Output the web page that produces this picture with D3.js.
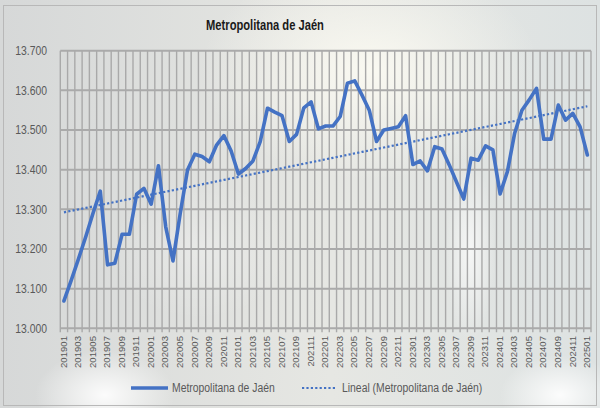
<!DOCTYPE html>
<html>
<head>
<meta charset="utf-8">
<script src="https://cdn.jsdelivr.net/npm/d3@7"></script>
<style>
  html, body { margin: 0; padding: 0; background: #dfe2e2; }
  svg { display: block; }
  text { font-family: "Liberation Sans", Arial, sans-serif; }
</style>
</head>
<body>
<svg id="chart" width="600" height="408"></svg>
<script>
const months = [
  "201901","201902","201903","201904","201905","201906","201907","201908","201909","201910","201911","201912",
  "202001","202002","202003","202004","202005","202006","202007","202008","202009","202010","202011","202012",
  "202101","202102","202103","202104","202105","202106","202107","202108","202109","202110","202111","202112",
  "202201","202202","202203","202204","202205","202206","202207","202208","202209","202210","202211","202212",
  "202301","202302","202303","202304","202305","202306","202307","202308","202309","202310","202311","202312",
  "202401","202402","202403","202404","202405","202406","202407","202408","202409","202410","202411","202412",
  "202501"
];

const afiliados = [
  13069, 13121, 13175, 13231, 13290, 13346, 13160, 13164, 13237, 13237, 13338, 13353,
  13313, 13410, 13256, 13170, 13290, 13399, 13439, 13433, 13420, 13462, 13486, 13447,
  13389, 13403, 13422, 13471, 13555, 13545, 13536, 13471, 13489, 13556, 13571, 13503,
  13510, 13510, 13534, 13618, 13624, 13588, 13550, 13471, 13500, 13504, 13508, 13536,
  13413, 13422, 13397, 13458, 13452, 13412, 13369, 13326, 13429, 13424, 13460, 13450,
  13339, 13395, 13492, 13550, 13576, 13605, 13477, 13477, 13563, 13525, 13542, 13508,
  13437
];

const yTicks = [13000, 13100, 13200, 13300, 13400, 13500, 13600, 13700];
const title = "Metropolitana de Jaén";
const serieName = "Metropolitana de Jaén";
const trendName = "Lineal (Metropolitana de Jaén)";

const blue = "#4472c4";
const labelColor = "#595959";
const squash = 0.77;   // the picture is narrower than the text would be

const svg = d3.select("#chart");

// Background -------------------------------------------------------
const defs = svg.append("defs");
const bg = defs.append("linearGradient").attr("id", "bg").attr("x1", 0).attr("x2", 1).attr("y1", 0).attr("y2", 0);
bg.append("stop").attr("offset", "0%").attr("stop-color", "#d6d8d8");
bg.append("stop").attr("offset", "55%").attr("stop-color", "#e6e7e3");
bg.append("stop").attr("offset", "100%").attr("stop-color", "#dde2e2");

function glow(id, color, op) {
  const g = defs.append("radialGradient").attr("id", id);
  g.append("stop").attr("offset", "0%").attr("stop-color", color).attr("stop-opacity", op);
  g.append("stop").attr("offset", "100%").attr("stop-color", color).attr("stop-opacity", 0);
}
glow("g1", "#fbfaf2", 0.95);
glow("g2", "#ffffff", 0.9);
glow("g3", "#ffffff", 0.7);

svg.append("rect").attr("width", 600).attr("height", 408).attr("fill", "url(#bg)");
svg.append("ellipse").attr("cx", 370).attr("cy", 70).attr("rx", 170).attr("ry", 110).attr("fill", "url(#g1)");
svg.append("ellipse").attr("cx", 105).attr("cy", 395).attr("rx", 70).attr("ry", 45).attr("fill", "url(#g2)");
svg.append("ellipse").attr("cx", 560).attr("cy", 395).attr("rx", 60).attr("ry", 40).attr("fill", "url(#g2)");
svg.append("ellipse").attr("cx", 470).attr("cy", 250).attr("rx", 25).attr("ry", 90).attr("fill", "url(#g3)");
svg.append("ellipse").attr("cx", 200).attr("cy", 250).attr("rx", 90).attr("ry", 70).attr("fill", "url(#g3)").attr("opacity", 0.4);

svg.append("rect")
    .attr("x", 3.5).attr("y", 5.5).attr("width", 593).attr("height", 400)
    .attr("fill", "none").attr("stroke", "#b8b8b8").attr("stroke-width", 1);

// Scales -----------------------------------------------------------
const plot = {left: 60.3, right: 591, top: 50.7, bottom: 328.3};

const x = d3.scaleBand().domain(months).range([plot.left, plot.right]);
const y = d3.scaleLinear().domain([13000, 13700]).range([plot.bottom, plot.top]);
const cx = d => x(d) + x.bandwidth() / 2;

const es = d3.formatLocale({decimal: ",", thousands: ".", grouping: [3], currency: ["", ""]});
const fmt = es.format(",");

// Grid -------------------------------------------------------------
const grid = svg.append("g");
grid.selectAll("line.v")
  .data(months.map(m => x(m)).concat([plot.right]))
  .enter().append("line")
    .attr("x1", d => d).attr("x2", d => d)
    .attr("y1", plot.top).attr("y2", plot.bottom + 4)
    .attr("stroke", "#a9a9a9").attr("stroke-width", 1.4);

grid.selectAll("line.h")
  .data(yTicks)
  .enter().append("line")
    .attr("x1", plot.left).attr("x2", plot.right)
    .attr("y1", d => y(d)).attr("y2", d => y(d))
    .attr("stroke", "#aaaaaa").attr("stroke-width", 2);

// Axis labels ------------------------------------------------------
svg.append("g").selectAll("text")
  .data(yTicks)
  .enter().append("text")
    .attr("transform", d => `translate(47, ${y(d)}) scale(${squash}, 1)`)
    .attr("text-anchor", "end")
    .attr("dominant-baseline", "central")
    .attr("fill", labelColor)
    .style("font-size", "13.5px")
    .text(fmt);

svg.append("g").selectAll("text")
  .data(months.filter((d, i) => i % 2 === 0))
  .enter().append("text")
    .attr("transform", d => `translate(${cx(d)}, 336) scale(0.85, 1) rotate(-90)`)
    .attr("text-anchor", "end")
    .attr("dominant-baseline", "central")
    .attr("fill", labelColor)
    .style("font-size", "9.6px")
    .text(d => d);

// Trend (least squares over the category index) --------------------
const n = afiliados.length;
const mx = d3.mean(afiliados, (d, i) => i);
const my = d3.mean(afiliados);
const slope = d3.sum(afiliados, (d, i) => (i - mx) * (d - my)) / d3.sum(afiliados, (d, i) => (i - mx) ** 2);
const trend = afiliados.map((d, i) => my + slope * (i - mx));

const line = d3.line()
  .x((d, i) => cx(months[i]))
  .y(d => y(d));

svg.append("path")
    .attr("d", line(trend))
    .attr("fill", "none")
    .attr("stroke", blue)
    .attr("stroke-width", 2.2)
    .attr("stroke-dasharray", "2.2,2.2");

svg.append("path")
    .attr("d", line(afiliados))
    .attr("fill", "none")
    .attr("stroke", blue)
    .attr("stroke-width", 3.6)
    .attr("stroke-linejoin", "round")
    .attr("stroke-linecap", "round");

// Title ------------------------------------------------------------
svg.append("text")
    .attr("transform", `translate(265, 30) scale(${squash}, 1)`)
    .attr("text-anchor", "middle")
    .attr("fill", "#1a1a1a")
    .style("font-size", "14.5px")
    .style("font-weight", "bold")
    .text(title);

// Legend -----------------------------------------------------------
const legend = svg.append("g");
legend.append("line")
    .attr("x1", 131).attr("x2", 168).attr("y1", 388).attr("y2", 388)
    .attr("stroke", blue).attr("stroke-width", 3.6);
legend.append("text")
    .attr("transform", `translate(172, 388) scale(${squash}, 1)`)
    .attr("dominant-baseline", "central")
    .attr("fill", labelColor)
    .style("font-size", "13.5px")
    .text(serieName);
legend.append("line")
    .attr("x1", 302).attr("x2", 337).attr("y1", 388).attr("y2", 388)
    .attr("stroke", blue).attr("stroke-width", 2.2)
    .attr("stroke-dasharray", "2.2,2.2");
legend.append("text")
    .attr("transform", `translate(342, 388) scale(${squash}, 1)`)
    .attr("dominant-baseline", "central")
    .attr("fill", labelColor)
    .style("font-size", "13.5px")
    .text(trendName);
</script>
</body>
</html>
